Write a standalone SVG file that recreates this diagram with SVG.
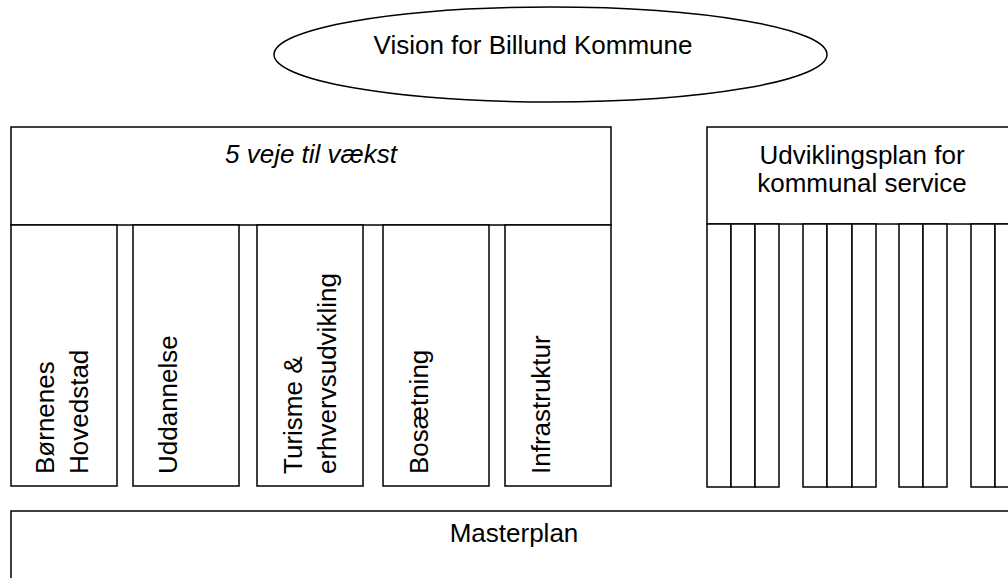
<svg xmlns="http://www.w3.org/2000/svg" width="1008" height="578" viewBox="0 0 1008 578">
<style>
.box{fill:#fff;stroke:#000;stroke-width:1.5}
.t{font-family:"Liberation Sans",Arial,sans-serif;font-size:26px;fill:#000}
.c{text-anchor:middle}
.i{font-style:italic}
</style>
<rect width="1008" height="578" fill="#fff"/>
<g id="connectors"/>
<g id="vision">
<ellipse class="box" cx="550.5" cy="54.5" rx="276.5" ry="47.5"/>
<text class="t c" x="533" y="53.5">Vision for Billund Kommune</text>
</g>
<g id="vaekst">
<rect class="box" x="11" y="127" width="600" height="98"/>
<text class="t c i" x="311" y="163">5 veje til vækst</text>
</g>
<g id="col-boernenes">
<rect class="box" x="11" y="225" width="106" height="261"/>
<g transform="translate(0,474) rotate(-90)">
<text class="t" x="0" y="54">Børnenes</text>
<text class="t" x="0" y="88">Hovedstad</text>
</g>
</g>
<g id="col-uddannelse">
<rect class="box" x="133" y="225" width="106" height="261"/>
<text class="t" transform="translate(177,474) rotate(-90)">Uddannelse</text>
</g>
<g id="col-turisme">
<rect class="box" x="257" y="225" width="106" height="261"/>
<g transform="translate(0,474) rotate(-90)">
<text class="t" x="0" y="302">Turisme &amp;</text>
<text class="t" x="0" y="336">erhvervsudvikling</text>
</g>
</g>
<g id="col-bosaetning">
<rect class="box" x="383" y="225" width="106" height="261"/>
<text class="t" transform="translate(428,474) rotate(-90)">Bosætning</text>
</g>
<g id="col-infrastruktur">
<rect class="box" x="505" y="225" width="106" height="261"/>
<text class="t" transform="translate(550,474) rotate(-90)">Infrastruktur</text>
</g>
<g id="udviklingsplan">
<rect class="box" x="707" y="127" width="310" height="97"/>
<text class="t c" x="862" y="164">Udviklingsplan for</text>
<text class="t c" x="862" y="192">kommunal service</text>
</g>
<g id="service-columns">
<rect class="box" x="707" y="224" width="24" height="263"/>
<rect class="box" x="731" y="224" width="24" height="263"/>
<rect class="box" x="755" y="224" width="24" height="263"/>
<rect class="box" x="803" y="224" width="24" height="263"/>
<rect class="box" x="827" y="224" width="25" height="263"/>
<rect class="box" x="852" y="224" width="24" height="263"/>
<rect class="box" x="899" y="224" width="24" height="263"/>
<rect class="box" x="923" y="224" width="24" height="263"/>
<rect class="box" x="971" y="224" width="24" height="263"/>
<rect class="box" x="995" y="224" width="24" height="263"/>
</g>
<g id="masterplan">
<rect class="box" x="11" y="511" width="1006" height="90"/>
<text class="t c" x="514" y="542">Masterplan</text>
</g>
</svg>
